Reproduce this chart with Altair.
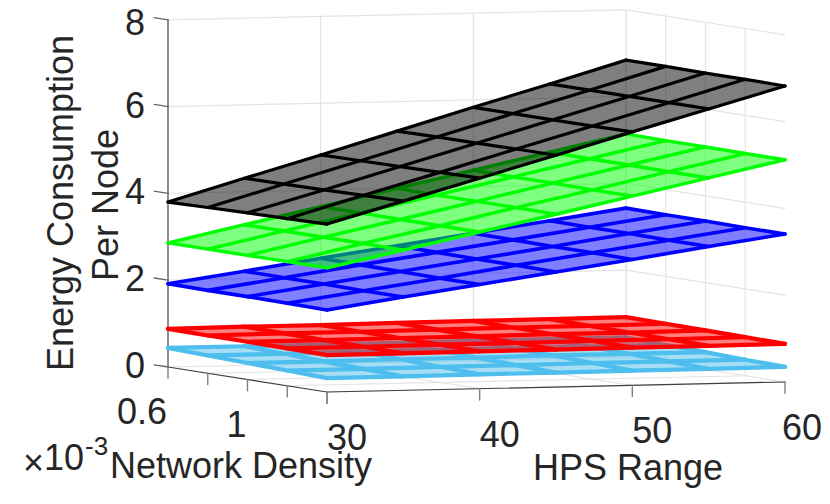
import altair as alt
import pandas as pd

hps_values = [30, 35, 40, 45, 50, 55, 60]
density_values = [0.6, 0.8, 1.0, 1.2, 1.4]

z_lightblue = [
    [0.44, 0.44, 0.44, 0.44, 0.45, 0.45, 0.45],
    [0.41, 0.41, 0.42, 0.42, 0.42, 0.42, 0.42],
    [0.38, 0.38, 0.39, 0.39, 0.40, 0.40, 0.40],
    [0.35, 0.35, 0.36, 0.36, 0.37, 0.37, 0.37],
    [0.32, 0.32, 0.33, 0.33, 0.34, 0.34, 0.35],
]
z_red = [
    [0.88, 0.89, 0.89, 0.90, 0.91, 0.91, 0.92],
    [0.87, 0.88, 0.88, 0.89, 0.90, 0.90, 0.91],
    [0.87, 0.87, 0.88, 0.88, 0.89, 0.89, 0.90],
    [0.86, 0.86, 0.87, 0.87, 0.88, 0.88, 0.89],
    [0.85, 0.85, 0.86, 0.86, 0.87, 0.87, 0.88],
]
z_blue = [
    [1.92, 2.17, 2.43, 2.68, 2.93, 3.18, 3.43],
    [1.91, 2.16, 2.42, 2.67, 2.92, 3.17, 3.42],
    [1.91, 2.16, 2.41, 2.66, 2.91, 3.17, 3.42],
    [1.90, 2.15, 2.40, 2.66, 2.91, 3.16, 3.41],
    [1.89, 2.15, 2.40, 2.65, 2.90, 3.16, 3.41],
]
z_green = [
    [2.86, 3.24, 3.62, 4.00, 4.38, 4.76, 5.14],
    [2.86, 3.24, 3.62, 3.99, 4.37, 4.75, 5.13],
    [2.86, 3.24, 3.61, 3.99, 4.37, 4.75, 5.13],
    [2.86, 3.24, 3.61, 3.99, 4.36, 4.74, 5.12],
    [2.86, 3.23, 3.61, 3.98, 4.36, 4.74, 5.12],
]
z_black = [
    [3.80, 4.31, 4.81, 5.32, 5.83, 6.33, 6.84],
    [3.82, 4.32, 4.82, 5.33, 5.83, 6.33, 6.84],
    [3.84, 4.33, 4.83, 5.33, 5.83, 6.33, 6.83],
    [3.85, 4.35, 4.84, 5.34, 5.83, 6.33, 6.83],
    [3.87, 4.36, 4.85, 5.34, 5.84, 6.33, 6.82],
]
surfaces = [
    ("#4dbeee", z_lightblue, 4.2),
    ("#ff0000", z_red, 4.2),
    ("#0000ff", z_blue, 3.6),
    ("#00ff00", z_green, 3.4),
    ("#000000", z_black, 3.2),
]
z_ticks = [0, 2, 4, 6, 8]
density_ticks = [0.6, 0.8, 1.0, 1.2, 1.4]
density_labels = {0.6: "0.6", 1.0: "1"}
hps_ticks = [30, 40, 50, 60]
ink = "#262626"
font = "Liberation Sans"


def project(h, d, z):
    a = (h - 30) / 30
    b = (d - 0.6) / 0.8
    return 458 * a + 159 * b, 43.4 * z + 10 * a - 25 * b


X = alt.X("u:Q", axis=None, scale=alt.Scale(domain=[-160, 654], nice=False, zero=False))
Y = alt.Y("v:Q", axis=None, scale=alt.Scale(domain=[-129, 359], nice=False, zero=False))


def frame(rows):
    out = []
    for path, pts in enumerate(rows):
        for seq, (h, d, z) in enumerate(pts):
            u, v = project(h, d, z)
            out.append({"path": path, "seq": seq, "u": u, "v": v})
    return pd.DataFrame(out)


def lines(rows, color, width, opacity=1.0):
    return alt.Chart(frame(rows)).mark_line(
        color=color, strokeWidth=width, opacity=opacity, strokeCap="round", strokeJoin="round", clip=False
    ).encode(x=X, y=Y, detail="path:N", order=alt.Order("seq:Q"))


layers = []

# walls and floor grid
grid = []
for z in z_ticks[1:]:
    grid.append([(30, 0.6, z), (60, 0.6, z), (60, 1.4, z)])
for h in hps_ticks[1:]:
    grid.append([(h, 0.6, 0), (h, 0.6, 8)])
    grid.append([(h, 0.6, 0), (h, 1.4, 0)])
for d in density_ticks:
    if d < 1.4:
        grid.append([(60, d, 0), (60, d, 8)])
    grid.append([(30, d, 0), (60, d, 0)])
layers.append(lines(grid, "#e4e4e4", 1.2))

# axis lines and ticks
layers.append(lines([[(30, 0.6, 0), (30, 0.6, 8)], [(30, 0.6, 0), (30, 1.4, 0), (60, 1.4, 0)]], "#404040", 1.2))
tick_rows = []
for z in z_ticks:
    tick_rows.append([(30, 0.6, z), (30, 0.53, z)])
layers.append(lines(tick_rows, "#666666", 1.3))
dt = []
for d in density_ticks:
    dt.append([(30, d, 0), (30, d, -0.26)])
for h in hps_ticks:
    dt.append([(h, 1.4, 0), (h, 1.4, -0.26)])
layers.append(lines(dt, "#808080", 1.4))

# surfaces, bottom to top
for color, grid_z, line_width in surfaces:
    corners = [
        (hps_values[0], density_values[0], grid_z[0][0]),
        (hps_values[-1], density_values[0], grid_z[0][-1]),
        (hps_values[-1], density_values[-1], grid_z[-1][-1]),
        (hps_values[0], density_values[-1], grid_z[-1][0]),
    ]
    layers.append(
        alt.Chart(frame([corners])).mark_line(
            fill=color, fillOpacity=0.5, strokeOpacity=0, strokeWidth=0
        ).encode(x=X, y=Y, order=alt.Order("seq:Q"))
    )
    rows = []
    for i, d in enumerate(density_values):
        rows.append([(h, d, grid_z[i][j]) for j, h in enumerate(hps_values)])
    for j, h in enumerate(hps_values):
        rows.append([(h, d, grid_z[i][j]) for i, d in enumerate(density_values)])
    layers.append(lines(rows, color, line_width))


def label_layer(items, align, dx, dy):
    df = pd.DataFrame([{"u": project(*p)[0], "v": project(*p)[1], "t": t} for p, t in items])
    return alt.Chart(df).mark_text(
        font=font, fontSize=36, color=ink, align=align, baseline="middle", dx=dx, dy=dy
    ).encode(x=X, y=Y, text="t:N")


layers.append(label_layer([((30, 0.6, z), str(z)) for z in z_ticks[:-1]], "right", -23, 0))
layers.append(label_layer([((30, 0.6, z_ticks[-1]), str(z_ticks[-1]))], "right", -23, 4))
layers.append(label_layer([((30, d, 0), t) for d, t in density_labels.items()], "right", -1, 46))
layers.append(label_layer([((h, 1.4, 0), str(h)) for h in hps_ticks[:-1]], "left", 0, 47))
layers.append(label_layer([((hps_ticks[-1], 1.4, 0), str(hps_ticks[-1]))], "left", -3, 47))


def fixed_text(t, px, py, size=36, angle=0, align="left", baseline="alphabetic"):
    return alt.Chart(pd.DataFrame({"t": [t]})).mark_text(
        font=font, fontSize=size, color=ink, align=align, baseline=baseline, angle=angle
    ).encode(x=alt.value(px - 8), y=alt.value(py - 8), text="t:N")


layers += [
    fixed_text("Network Density", 110, 478),
    fixed_text("HPS Range", 533, 480),
    fixed_text("Energy Consumption", 73, 203, angle=270, align="center"),
    fixed_text("Per Node", 118, 205, angle=270, align="center"),
    fixed_text("×", 23, 475, size=36),
    fixed_text("10", 44, 470, size=36),
    fixed_text("-3", 85, 455, size=26),
]

chart = alt.layer(*layers).properties(
    width=814, height=488, padding=0, autosize=alt.AutoSizeParams(type="none")
).configure_view(stroke=None)

chart.save("out.html", embed_options={"renderer": "svg", "actions": False})
